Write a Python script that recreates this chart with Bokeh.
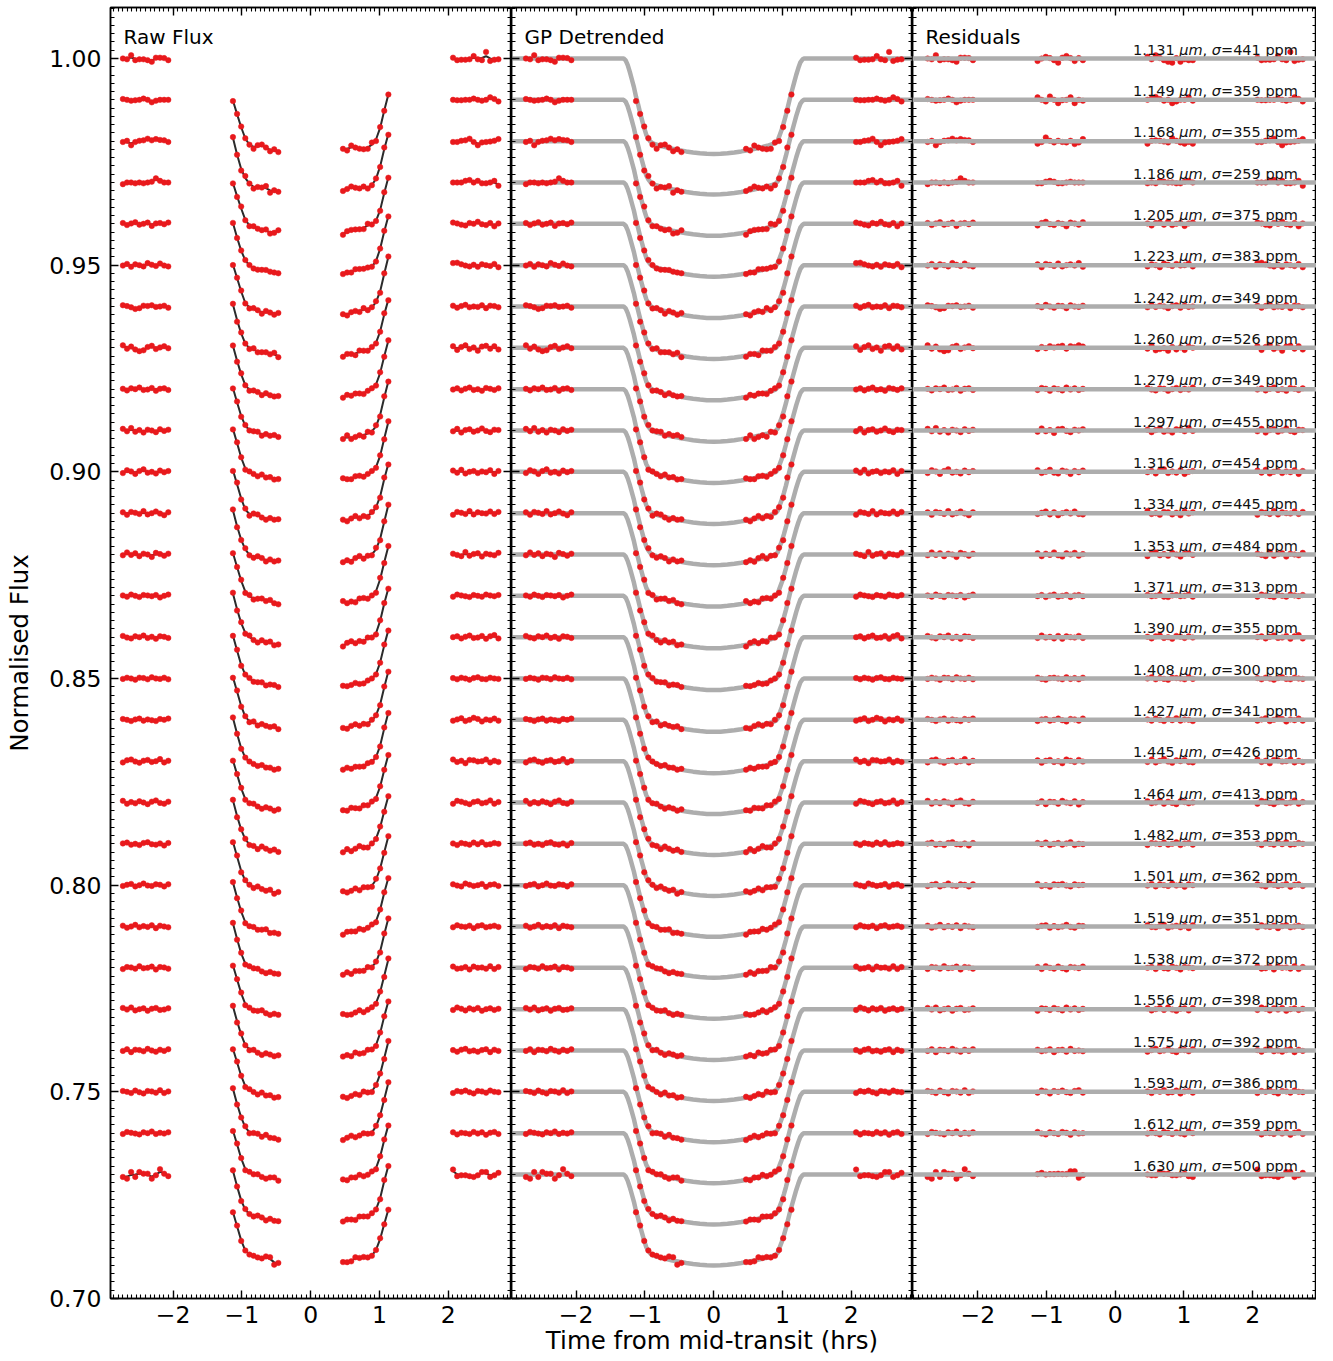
import numpy as np
from bokeh.plotting import figure
from bokeh.layouts import row
from bokeh.models import (Range1d, LinearAxis, SingleIntervalTicker, CustomJSTickFormatter,
                          PrintfTickFormatter, Span, Label, ColumnDataSource)
from bokeh.embed import file_html
from bokeh.resources import INLINE
from bokeh.core.properties import value

# ---------------- data ----------------
wavelength_um = [1.131, 1.149, 1.168, 1.186, 1.205, 1.223, 1.242, 1.260, 1.279, 1.297,
                 1.316, 1.334, 1.353, 1.371, 1.390, 1.408, 1.427, 1.445, 1.464, 1.482,
                 1.501, 1.519, 1.538, 1.556, 1.575, 1.593, 1.612, 1.630]
sigma_ppm = [441, 359, 355, 259, 375, 383, 349, 526, 349, 455, 454, 445, 484, 313,
             355, 300, 341, 426, 413, 353, 362, 351, 372, 398, 392, 386, 359, 500]
transit_depth = [0.0231, 0.0229, 0.0229, 0.0228, 0.0228, 0.0227, 0.0227, 0.0227, 0.0227, 0.0226,
                 0.0226, 0.0226, 0.0227, 0.0228, 0.0229, 0.0229, 0.0228, 0.0227, 0.0226, 0.0225,
                 0.0224, 0.0223, 0.0223, 0.0222, 0.0222, 0.0221, 0.0221, 0.0220]
channel_offset = 0.01

t_orbit1 = [-2.73, -2.67, -2.61, -2.55, -2.49, -2.43, -2.37, -2.31, -2.25, -2.19, -2.13, -2.07]
t_orbit2 = [-1.13, -1.07, -1.01, -0.95, -0.89, -0.83, -0.77, -0.71, -0.65, -0.59, -0.53, -0.47]
t_orbit3 = [0.47, 0.53, 0.59, 0.65, 0.71, 0.77, 0.83, 0.89, 0.95, 1.01, 1.07, 1.13]
t_orbit4 = [2.07, 2.13, 2.19, 2.25, 2.31, 2.37, 2.43, 2.49, 2.55, 2.61, 2.67, 2.73]

# transit model at the exposure times, as a fraction of the full depth
frac_orbit1 = [0.0] * 12
frac_orbit2 = [0.42, 0.58, 0.73, 0.84, 0.885, 0.903, 0.916, 0.927, 0.937, 0.946, 0.955, 0.963]
frac_orbit3 = [0.963, 0.955, 0.946, 0.937, 0.927, 0.916, 0.903, 0.885, 0.83, 0.71, 0.53, 0.36]
frac_orbit4 = [0.0] * 12

# transit model curve (fraction of full depth)
curve_t = [-2.95, -1.31, -1.28, -1.25, -1.22, -1.19, -1.16, -1.13, -1.10, -1.07, -1.04, -1.01,
           -0.98, -0.95, -0.92, -0.89, -0.85, -0.78, -0.70, -0.60, -0.50, -0.40, -0.30, -0.20,
           -0.10, 0.0, 0.10, 0.20, 0.30, 0.40, 0.50, 0.60, 0.70, 0.78, 0.85, 0.90, 0.93, 0.96,
           0.99, 1.02, 1.05, 1.08, 1.11, 1.14, 1.17, 1.20, 1.23, 1.26, 1.29, 1.31, 2.95]
curve_frac = [0.0, 0.0, 0.02, 0.07, 0.14, 0.22, 0.30, 0.40, 0.48, 0.57, 0.65, 0.73,
              0.80, 0.84, 0.87, 0.885, 0.898, 0.914, 0.928, 0.945, 0.960, 0.973, 0.984, 0.992,
              0.998, 1.0, 0.998, 0.992, 0.984, 0.973, 0.960, 0.945, 0.928, 0.914, 0.898, 0.885, 0.86, 0.80,
              0.74, 0.67, 0.59, 0.50, 0.41, 0.33, 0.25, 0.17, 0.10, 0.04, 0.01, 0.0, 0.0]

# residuals, in units of 100 ppm (orbit1 | orbit2 | orbit3 | orbit4)
res_1131 = [0, -2, 8, -4, -2, -2, -4, -8, 2, 2, 1, -4,  -6, 0, 4, 1, -4, -10, 2, 6, 1, -6, 1, -4,
            4, -2, 8, 1, -4, -8, -10, 1, -8, -2, -4, -4,  2, -4, -3, -3, -2, 6, -2, -4, 16, -6, -3, -2]
res_1149 = [2, 0, -2, -1, 0, 3, 0, -6, -2, 0, 0, 0,  6, 0, -4, 8, 0, -8, -1, 0, 6, -8, 0, -2,
            0, 3, 7, 2, -2, 0, -8, -4, 0, 0, 6, -2,  0, -1, -1, 0, 0, 3, 0, -2, 0, 6, 2, -4]
res_1168 = [-2, 1, -10, -2, 1, 2, 6, 2, 5, 3, 2, -2,  -6, -2, 9, 1, -3, 1, -2, -3, 1, -7, -3, 5,
            -6, 1, 2, 1, -1, -3, 7, 1, -3, -6, -2, -6,  -2, -2, 1, 2, 6, -2, -10, -3, -2, -1, 1, 5]
res_1186 = [-4, 0, 0, -2, 0, -2, 0, 2, 10, 4, 0, 0,  -2, -2, 2, 4, 2, -2, -2, 0, 2, 0, 0, 0,
            -2, 0, -2, 4, 2, 0, 0, -2, -2, 2, 4, 0,  0, 0, 0, 4, 6, 0, 4, -2, -2, 0, 4, -8]
res_1205 = [2, -3, 1, 4, -2, 0, 3, -5, 1, 2, -1, 3,  -4, 2, 5, -1, -3, 2, 0, -6, 3, 1, -2, 4,
            1, -4, 2, 3, -2, 5, -3, 0, 2, -5, 1, 3,  3, 1, -2, -4, 2, 0, 5, -1, -3, 2, -6, 1]
res_1223 = [-1, 3, -4, 2, 0, -3, 5, 1, -2, 4, -1, -3,  2, -5, 3, 1, -2, 4, -3, 0, 2, -1, 5, -4,
            -3, 2, 0, -5, 4, 1, -2, 3, -1, 0, 4, -3,  5, 6, 2, -1, -3, 1, -4, 2, 0, -2, 3, -5]
res_1242 = [3, 1, -2, -6, -4, 2, 1, 3, -1, 0, 2, -3,  1, -2, 4, 0, -3, 2, 1, -4, 3, 0, -1, 2,
            -2, 3, -1, 2, 0, -4, 1, 3, -3, 2, -1, 0,  2, -3, 1, 4, -2, 0, -1, 3, -4, 2, 1, -2]
res_1260 = [6, -2, 3, -4, -8, -6, 2, 5, -3, 1, 4, -1,  -3, 2, -1, 4, 1, 3, 5, -2, 4, 2, 6, 3,
            -2, 5, -6, -3, -1, -7, 2, -4, 1, -5, 3, 0,  4, -5, 2, 6, -3, 1, -7, 3, 5, -2, 4, -4]
res_1279 = [1, -3, 2, 0, 4, -2, -1, 3, -4, 1, 2, -2,  -2, 3, 1, -4, 2, 0, -3, 4, -1, 2, -2, 1,
            3, -1, -3, 2, 1, -4, 0, 3, -2, 1, -1, 4,  -1, 2, -3, 1, 4, -2, 0, -4, 3, 1, -2, 2]
res_1297 = [4, -2, 6, -3, 1, -5, 2, 0, -4, 3, -1, 2,  -3, 5, -2, 1, -6, 3, 4, -1, -4, 2, 0, 3,
            2, -4, 1, 5, -3, 0, -5, 3, 2, -2, 6, -1,  -2, 4, -5, 1, 3, -3, 0, 5, -1, -4, 2, 1]
res_1316 = [-3, 4, 1, -5, 2, 6, -2, 0, -4, 3, -1, 2,  4, -3, 0, 5, -2, -4, 3, 1, -5, 2, -1, 3,
            -1, 2, -4, 3, 6, -3, 1, -2, 4, -5, 0, 2,  3, -2, 5, -4, 0, 2, -3, 1, -1, 4, -5, 2]
res_1334 = [2, -4, 3, 1, -2, 5, -3, 0, 4, -1, -5, 2,  -2, 1, 4, -3, 2, -5, 0, 3, -1, 4, -2, -3,
            5, -2, 0, -4, 3, 2, -3, 1, -5, 4, -1, 2,  -4, 3, 1, -2, 5, -3, 2, 0, -1, 4, -2, 3]
res_1353 = [-2, 5, -1, 3, -4, 2, 0, -6, 4, 1, -3, 2,  3, -4, 2, -1, 5, -2, -5, 3, 0, 4, -3, 1,
            -4, 3, 5, -2, 1, -3, 4, 0, -5, 2, 3, -1,  2, -1, -4, 6, -3, 1, 3, -5, 2, 0, -2, 4]
res_1371 = [1, -2, 3, 0, -3, 2, 1, -1, 2, -4, 0, 3,  -1, 2, -3, 1, 3, -2, 0, 2, -3, 1, 2, -1,
            2, -1, 0, 3, -2, -3, 1, 2, -1, 0, 3, -2,  -2, 3, 1, -1, -3, 2, 0, -2, 3, 1, -1, 2]
res_1390 = [3, -1, -3, 2, 0, 4, -2, 1, -4, 2, 1, -2,  -2, 4, -1, 1, -3, 3, -4, 2, 0, -1, 3, -2,
            1, -3, 2, 4, -2, 0, -4, 3, 1, -2, 2, -1,  0, 2, -3, 1, 4, -2, -1, 3, -4, 2, 5, -3]
res_1408 = [-1, 2, 0, -3, 2, 1, -2, 3, 0, -1, 2, -2,  2, -1, -3, 1, 2, 0, -2, 3, -1, 1, -2, 2,
            0, 3, -2, 1, -1, -3, 2, 1, 0, -2, 3, -1,  1, -2, 2, 0, -3, 1, 3, -1, -2, 2, 0, -1]
res_1427 = [2, 0, -3, 1, 3, -2, 1, -1, -3, 2, 0, 3,  -3, 1, 2, -2, 0, 3, -1, -4, 2, 1, -2, 3,
            1, -2, 3, 0, -3, 2, -1, 4, -2, 1, 0, -3,  -2, 1, 4, -3, 0, 5, 2, -4, 1, -1, 3, -2]
res_1445 = [-3, 2, 4, -1, -4, 1, 3, -2, 0, 5, -3, 1,  2, -4, 1, 3, -2, 0, -5, 4, 1, -2, 3, -1,
            -2, 4, -3, 1, 5, -1, -4, 2, 0, 3, -2, -3,  4, -2, 1, -5, 3, 2, -1, 0, 4, -3, 1, -2]
res_1464 = [4, -3, 1, -2, 3, 0, -4, 2, 5, -1, -3, 2,  -1, 3, -4, 2, 1, -3, 4, 0, -2, 3, -5, 1,
            3, -2, 0, 4, -3, 2, -1, -4, 3, 1, -2, 0,  -3, 4, 2, -1, -4, 1, 3, -2, 0, 5, -3, 1]
res_1482 = [1, 3, -2, 0, -3, 2, 4, -1, -2, 1, -4, 2,  2, -1, 3, -3, 0, 2, -2, 1, 4, -3, 0, -1,
            -3, 2, 1, -1, 3, -2, 0, 4, -3, 1, 2, -2,  1, -3, 2, 0, -2, 3, -1, 4, -2, -1, 2, 0]
res_1501 = [-2, 1, 3, -3, 0, 4, -1, -2, 2, 1, -3, 2,  3, -2, 0, -4, 2, 1, 3, -1, -3, 2, 0, 1,
            -1, 3, -3, 2, 0, -2, 4, -1, 1, -4, 2, 0,  2, -1, -3, 4, 1, -2, 0, 3, -4, 1, 2, -2]
res_1519 = [2, -3, 0, 4, -2, 1, -1, 3, -4, 2, 0, -2,  -1, 2, 3, -3, 1, -2, 0, 4, -1, -3, 2, 1,
            3, -1, -2, 1, 4, -3, 0, 2, -2, 1, -4, 3,  -2, 3, 0, -1, 2, -4, 1, 3, -2, 0, 2, -1]
res_1538 = [-3, 2, 1, -2, 4, -1, 0, 3, -4, 2, 1, -2,  2, -3, 4, 0, -2, 3, -1, -4, 2, 1, -1, 3,
            0, 2, -3, 4, -1, -2, 3, 0, -4, 2, 1, -1,  3, -2, -1, 2, -4, 3, 0, 1, -2, 4, -3, 2]
res_1556 = [3, -1, 4, -3, 0, 2, -4, 1, 3, -2, -1, 2,  -4, 2, 1, -2, 3, 0, -3, 4, -1, 2, -2, 1,
            2, -3, 0, 3, -2, 4, -1, -4, 1, 2, -3, 3,  -2, 4, 1, -3, 2, -1, 3, -4, 0, 2, -2, 1]
res_1575 = [-1, 3, -4, 2, 1, -2, 4, 0, -3, 2, -1, 3,  2, -2, 0, 3, -4, 1, 2, -3, 4, -1, 0, -2,
            -3, 1, 4, -2, 0, 3, -1, -4, 2, 1, -2, 3,  1, -3, 2, 4, -2, 0, -3, 1, 3, -4, 2, -1]
res_1593 = [2, 0, -3, 3, -1, -4, 2, 1, -2, 4, -3, 1,  -2, 3, 1, -4, 2, 0, 3, -1, -3, 2, 4, -2,
            1, -3, 2, 0, 4, -2, -1, 3, -4, 1, 2, -2,  -3, 2, 0, 3, -1, -4, 2, 1, -2, 3, 0, -1]
res_1612 = [-2, 3, 1, -1, -3, 2, 0, 4, -2, 1, -1, 2,  3, -1, -3, 2, 0, -2, 3, 1, -4, 2, -1, 0,
            -1, 2, 0, -3, 3, 1, -2, 2, -1, -3, 4, 0,  2, -3, 1, 0, -2, 3, -1, 2, -4, 1, 3, -2]
res_1630 = [-6, -10, 6, -6, 6, 2, 2, -10, -2, 13, 2, -4,  1, 4, 0, 1, 1, 2, 1, 1, 8, 8, -8, -2,
            0, -2, -2, 6, 2, 2, -2, -2, 0, 2, -4, -6,  12, -4, -2, -2, -4, -6, -2, 6, 6, -6, -2, 4]

residuals = [res_1131, res_1149, res_1168, res_1186, res_1205, res_1223, res_1242, res_1260,
             res_1279, res_1297, res_1316, res_1334, res_1353, res_1371, res_1390, res_1408,
             res_1427, res_1445, res_1464, res_1482, res_1501, res_1519, res_1538, res_1556,
             res_1575, res_1593, res_1612, res_1630]

# ---------------- derived ----------------
orbits_t = [t_orbit1, t_orbit2, t_orbit3, t_orbit4]
orbits_f = [frac_orbit1, frac_orbit2, frac_orbit3, frac_orbit4]
t_all = np.array(t_orbit1 + t_orbit2 + t_orbit3 + t_orbit4)
f_all = np.array(frac_orbit1 + frac_orbit2 + frac_orbit3 + frac_orbit4)

RED = "#e8191c"
GRAY = "#adadad"
DARK = "#2b2b2b"
FONT = "DejaVu Sans"

px, py_det, py_res = [], [], []
raw_xs, raw_ys = [], []
curve_xs, curve_ys = [], []
bases = []
for k, res in enumerate(residuals):
    base = 1.0 - channel_offset * k
    bases.append(base)
    r = np.array(res, dtype=float) * 1e-4
    model = base - transit_depth[k] * f_all
    px.extend(t_all.tolist())
    py_det.extend((model + r).tolist())
    py_res.extend((base + r).tolist())
    # GP systematics line in the raw panel follows the correlated part of the scatter
    for o in range(4):
        ro = r[o * 12:(o + 1) * 12]
        sm = ro.copy()
        sm[1:-1] = 0.25 * ro[:-2] + 0.5 * ro[1:-1] + 0.25 * ro[2:]
        sm[0] = 0.75 * ro[0] + 0.25 * ro[1]
        sm[-1] = 0.75 * ro[-1] + 0.25 * ro[-2]
        raw_xs.append(orbits_t[o])
        raw_ys.append((base - transit_depth[k] * np.array(orbits_f[o]) + sm).tolist())
    curve_xs.append(curve_t)
    curve_ys.append((base - transit_depth[k] * np.array(curve_frac)).tolist())

# ---------------- figures ----------------
# frame: top at 7 px, bottom at 1298 px; 1.00 sits at 58 px
FRAME_H = 1291
Y0, Y1 = 0.70, 1.01234
BORDER_TOP = 7
BORDER_BOTTOM = 63


def style_axis(ax, labels, is_x):
    if is_x:
        ax.ticker = SingleIntervalTicker(interval=1, num_minor_ticks=15)
        ax.formatter = CustomJSTickFormatter(
            code="return (tick < 0 ? '\\u2212' : '') + Math.abs(tick).toFixed(0);")
    else:
        ax.ticker = SingleIntervalTicker(interval=0.05, num_minor_ticks=25)
        ax.formatter = PrintfTickFormatter(format="%.2f")
    ax.major_tick_in = 8
    ax.major_tick_out = 0
    ax.minor_tick_in = 4
    ax.minor_tick_out = 0
    ax.major_tick_line_width = 1.4
    ax.minor_tick_line_width = 1.1
    ax.major_tick_line_color = "black"
    ax.minor_tick_line_color = "black"
    ax.axis_line_color = "black"
    ax.axis_line_width = 1.5
    ax.major_label_text_font = FONT
    ax.axis_label_text_font = FONT
    ax.axis_label_text_font_style = "normal"
    ax.axis_label_text_color = "black"
    if labels:
        ax.major_label_text_color = "black"
        ax.major_label_text_font_size = "23.5px"
        ax.major_label_standoff = 7 if is_x else 9
    else:
        ax.major_label_text_color = None
        ax.major_label_text_font_size = "1px"
        ax.major_label_standoff = 0


def make_panel(xr, frame_w, left_border, ylabels, xlabel, title):
    p = figure(frame_width=frame_w, frame_height=FRAME_H,
               x_range=Range1d(*xr), y_range=Range1d(Y0, Y1),
               x_axis_location="below", y_axis_location="left",
               output_backend="svg", toolbar_location=None,
               min_border_left=left_border, min_border_right=0,
               min_border_top=BORDER_TOP, min_border_bottom=BORDER_BOTTOM)
    p.outline_line_color = "black"
    p.outline_line_width = 1.5
    p.xgrid.visible = False
    p.ygrid.visible = False
    p.background_fill_color = "white"
    p.border_fill_color = "white"
    bottom = p.below[0]
    left = p.left[0]
    style_axis(bottom, True, True)
    style_axis(left, ylabels, False)
    top = LinearAxis()
    style_axis(top, False, True)
    p.add_layout(top, "above")
    right = LinearAxis()
    style_axis(right, False, False)
    p.add_layout(right, "right")
    if ylabels:
        left.axis_label = "Normalised Flux"
        left.axis_label_text_font_size = "24.5px"
        left.axis_label_standoff = 12
    if xlabel:
        bottom.axis_label = xlabel
        bottom.axis_label_text_font_size = "24.5px"
        bottom.axis_label_standoff = 0
    p.add_layout(Label(x=xr[0] + 0.19, y=1.0051, text=title, text_font=FONT,
                       text_font_size="20px", text_color="black",
                       text_baseline="alphabetic", text_align="left"))
    return p


p1 = make_panel((-2.91, 2.92), 401, 110, True, None, "Raw Flux")
p2 = make_panel((-2.94, 2.89), 401, 0, False, "Time from mid-transit (hrs)", "GP Detrended")
p3 = make_panel((-2.95, 2.93), 404, 0, False, None, "Residuals")

# Raw flux
p1.multi_line(raw_xs, raw_ys, line_color=DARK, line_width=2)
p1.scatter(px, py_det, size=5.5, fill_color=RED, line_color=RED, line_width=0.5)

# GP detrended
p2.multi_line(curve_xs, curve_ys, line_color=GRAY, line_width=4.5)
p2.scatter(px, py_det, size=5.5, fill_color=RED, line_color=RED, line_width=0.5)

# Residuals
for b in bases:
    p3.add_layout(Span(location=b, dimension="width", line_color=GRAY, line_width=4.5))
p3.scatter(px, py_res, size=5.5, fill_color=RED, line_color=RED, line_width=0.5)

# channel labels:  "1.131 μm, σ=441 ppm"  (μm and σ italic)
FS = 14.5
EM = {"0": 0.636, "1": 0.636, "2": 0.636, "3": 0.636, "4": 0.636, "5": 0.636, "6": 0.636,
      "7": 0.636, "8": 0.636, "9": 0.636, ".": 0.318, ",": 0.318, " ": 0.318, "=": 0.838,
      "p": 0.635, "m": 0.974, "μ": 0.636, "σ": 0.633}


def wpx(s):
    return sum(EM[c] for c in s) * FS


reg = dict(x=[], y=[], text=[], xo=[])
ita = dict(x=[], y=[], text=[], xo=[])
LABEL_X = 2.66
for k, b in enumerate(bases):
    pieces = [("%.3f" % wavelength_um[k], reg), (None, None), ("μm", ita), (",", reg),
              (None, None), ("σ", ita), ("=%d ppm" % sigma_ppm[k], reg)]
    xr_ = 0.0
    for txt, tgt in reversed(pieces):
        if txt is None:
            xr_ -= wpx(" ")
            continue
        tgt["x"].append(LABEL_X)
        tgt["y"].append(b)
        tgt["text"].append(txt)
        tgt["xo"].append(xr_)
        xr_ -= wpx(txt)

for src, style in ((reg, "normal"), (ita, "italic")):
    p3.text(x="x", y="y", text="text", x_offset="xo", y_offset=-9,
            source=ColumnDataSource(src), text_font=value(FONT), text_font_size="%.1fpx" % FS,
            text_font_style=style, text_align="right", text_baseline="alphabetic",
            text_color="#111111")

layout = row(p1, p2, p3)
open("out.html", "w").write(file_html(layout, INLINE, "Transit light curves"))
